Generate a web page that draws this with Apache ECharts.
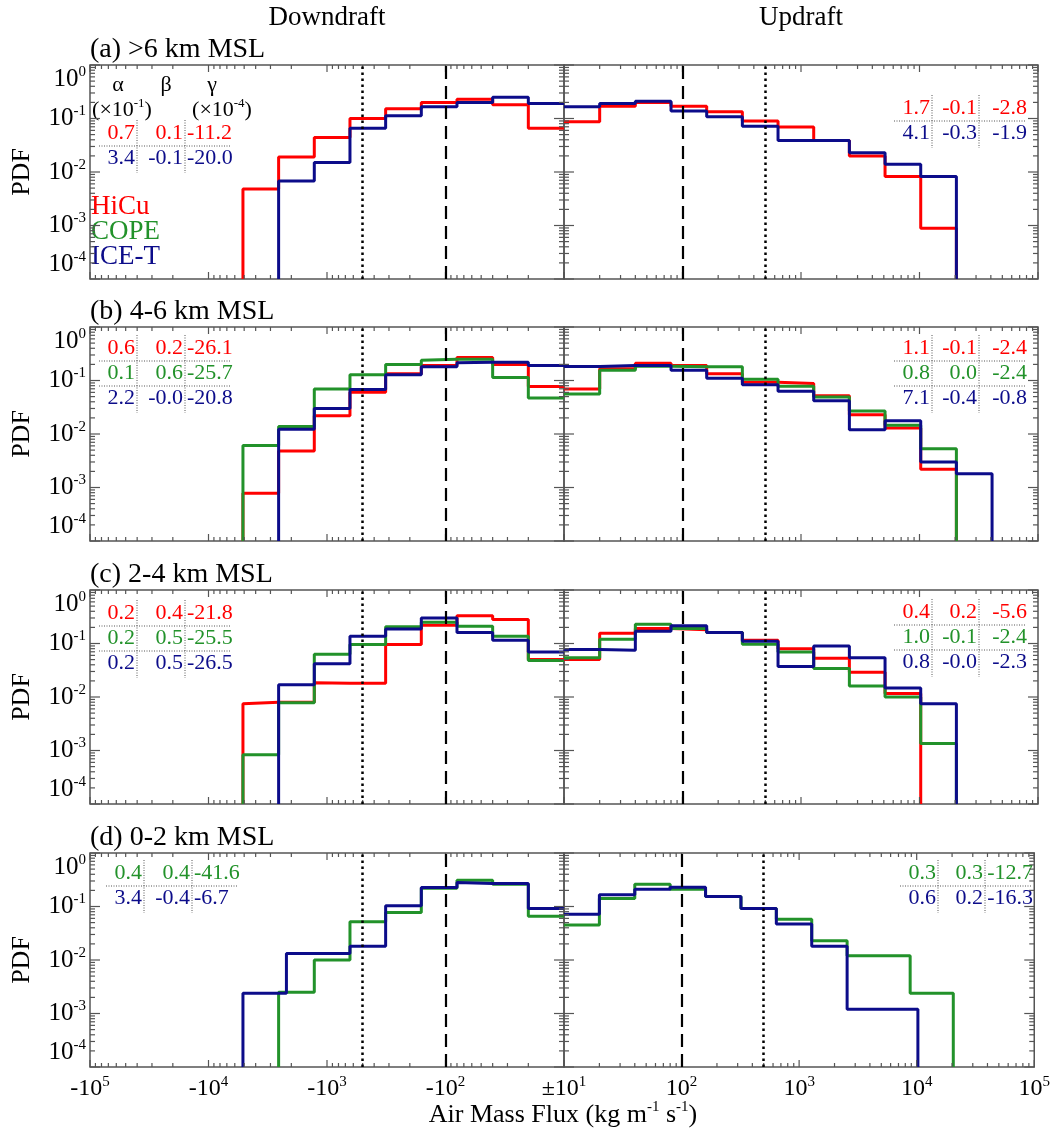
<!DOCTYPE html>
<html>
<head>
<meta charset="utf-8">
<script src="https://cdn.jsdelivr.net/npm/echarts@6/dist/echarts.min.js"></script>
<style>
  html, body { margin: 0; padding: 0; background: #fff; }
  #chart { width: 1053px; height: 1133px; }
</style>
</head>
<body>
<div id="chart"></div>
<script>
const campaigns = ['HiCu', 'COPE', 'ICE-T'];
const campaignColors = ['#ff0000', '#22922a', '#0c0c8a'];
const panelTitles = ['(a) >6 km MSL', '(b) 4-6 km MSL', '(c) 2-4 km MSL', '(d) 0-2 km MSL'];
const binEdges = [10, 20, 40, 80, 160, 320, 640, 1280, 2560, 5120, 10240, 20480, 40960];
const refDashed = 100;
const refDotted = 500;

// PDF per bin, |flux| from 10 outward; null panel = campaign not in that layer
const downHiCu = [
  [0.066, 0.18, 0.23, 0.20, 0.152, 0.10, 0.044, 0.019, 0.0048],
  [0.077, 0.20, 0.27, 0.19, 0.134, 0.060, 0.022, 0.0048, 0.00078],
  [0.050, 0.28, 0.33, 0.22, 0.096, 0.018, 0.0185, 0.008, 0.0075],
  null
];
const downCOPE = [
  null,
  [0.047, 0.114, 0.25, 0.24, 0.199, 0.128, 0.069, 0.0138, 0.0061],
  [0.048, 0.137, 0.21, 0.25, 0.206, 0.096, 0.063, 0.0078, 0.00083],
  [0.066, 0.26, 0.31, 0.22, 0.077, 0.052, 0.010, 0.0025]
];
const downICET = [
  [0.19, 0.25, 0.20, 0.166, 0.113, 0.066, 0.015, 0.0068],
  [0.19, 0.22, 0.215, 0.18, 0.128, 0.068, 0.030, 0.0123],
  [0.069, 0.115, 0.16, 0.30, 0.187, 0.137, 0.042, 0.017],
  [0.092, 0.27, 0.28, 0.226, 0.103, 0.018, 0.0132, 0.0024]
];
const upHiCu = [
  [0.087, 0.17, 0.20, 0.17, 0.134, 0.09, 0.069, 0.039, 0.020, 0.0082, 0.00089],
  [0.069, 0.166, 0.21, 0.19, 0.134, 0.093, 0.088, 0.052, 0.023, 0.013, 0.0022],
  [0.050, 0.155, 0.19, 0.18, 0.16, 0.115, 0.080, 0.053, 0.029, 0.0116],
  null
];
const upCOPE = [
  null,
  [0.056, 0.155, 0.185, 0.18, 0.18, 0.105, 0.078, 0.049, 0.027, 0.0145, 0.0053],
  [0.054, 0.12, 0.23, 0.19, 0.16, 0.097, 0.069, 0.034, 0.016, 0.010, 0.00135],
  [0.045, 0.141, 0.26, 0.21, 0.154, 0.092, 0.058, 0.023, 0.012, 0.0024]
];
const upICET = [
  [0.166, 0.19, 0.21, 0.138, 0.108, 0.072, 0.039, 0.039, 0.023, 0.014, 0.0082],
  [0.183, 0.19, 0.19, 0.155, 0.11, 0.083, 0.063, 0.042, 0.012, 0.0177, 0.0030, 0.0018],
  [0.077, 0.075, 0.17, 0.215, 0.16, 0.11, 0.037, 0.090, 0.054, 0.0147, 0.0075],
  [0.072, 0.165, 0.21, 0.23, 0.154, 0.092, 0.047, 0.018, 0.0012, 0.0012]
];
// panel (d) has two series binned differently at large |flux|
const downICETEdgesD = [10, 20, 40, 80, 160, 320, 640, 2200, 5120];
const upCOPEEdgesD = [10, 20, 40, 80, 160, 320, 640, 1280, 2560, 8800, 20480];

// fitted parameters alpha (x10^-1), beta, gamma (x10^-4)
const paramsDown = [
  [['0.7', '0.1', '-11.2'], null, ['3.4', '-0.1', '-20.0']],
  [['0.6', '0.2', '-26.1'], ['0.1', '0.6', '-25.7'], ['2.2', '-0.0', '-20.8']],
  [['0.2', '0.4', '-21.8'], ['0.2', '0.5', '-25.5'], ['0.2', '0.5', '-26.5']],
  [null, ['0.4', '0.4', '-41.6'], ['3.4', '-0.4', '-6.7']]
];
const paramsUp = [
  [['1.7', '-0.1', '-2.8'], null, ['4.1', '-0.3', '-1.9']],
  [['1.1', '-0.1', '-2.4'], ['0.8', '0.0', '-2.4'], ['7.1', '-0.4', '-0.8']],
  [['0.4', '0.2', '-5.6'], ['1.0', '-0.1', '-2.4'], ['0.8', '-0.0', '-2.3']],
  [null, ['0.3', '0.3', '-12.7'], ['0.6', '0.2', '-16.3']]
];

const FONT = '"Liberation Serif", "Times New Roman", serif';
const xMin = 10, xMax = 1e5, yMin = 1e-4, yMax = 1;
const panelTop = [65, 327, 590, 853];
const panelH = 214;
const plotLeft = 90, plotMid = 564, plotRight = 1038;

const downData = [downHiCu, downCOPE, downICET];
const upData = [upHiCu, upCOPE, upICET];

function edgesFor(p, side, k) {
  if (p === 3 && side === 0 && k === 2) return downICETEdgesD;
  if (p === 3 && side === 1 && k === 1) return upCOPEEdgesD;
  return binEdges;
}

// histogram outline, dropping to the axis floor at the outer end
function stepPoints(values, edges) {
  const pts = [];
  let last = 0;
  values.forEach((v, i) => {
    if (v == null) return;
    pts.push([edges[i], v], [edges[i + 1], v]);
    last = i;
  });
  pts.push([edges[last + 1], yMin]);
  return pts;
}

// tick positions (decades + 2..9 minors) for both axes
const tickData = [];
[10, 100, 1000, 10000].forEach(b => {
  for (let m = 1; m <= 9; m++) tickData.push([m * b, 1e-2, m === 1 ? 1 : 0]);
});
tickData.push([1e5, 1e-2, 1]);
[1e-4, 1e-3, 1e-2, 1e-1].forEach(b => {
  for (let m = 1; m <= 9; m++) tickData.push([10, m * b, m === 1 ? 3 : 2]);
});
tickData.push([10, 1, 3]);

function renderTicks(params, api) {
  const t = api.value(2);
  const style = { stroke: '#555', lineWidth: 1.2 };
  if (t <= 1) {
    const x = api.value(0);
    const lo = api.coord([x, yMin]);
    const hi = api.coord([x, yMax]);
    const len = t === 1 ? 7 : 4;
    return {
      type: 'group',
      children: [
        { type: 'line', shape: { x1: lo[0], y1: lo[1], x2: lo[0], y2: lo[1] - len }, style },
        { type: 'line', shape: { x1: hi[0], y1: hi[1], x2: hi[0], y2: hi[1] + len }, style }
      ]
    };
  }
  const y = api.value(1);
  const a = api.coord([xMin, y]);
  const b = api.coord([xMax, y]);
  const dir = Math.sign(b[0] - a[0]);
  const len = t === 3 ? 10 : 5;
  return {
    type: 'group',
    children: [
      { type: 'line', shape: { x1: a[0], y1: a[1], x2: a[0] + dir * len, y2: a[1] }, style },
      { type: 'line', shape: { x1: b[0], y1: b[1], x2: b[0] - dir * len, y2: b[1] }, style }
    ]
  };
}

const supRich = (size, sup) => ({
  b: { fontSize: size, fontFamily: FONT, color: '#000', lineHeight: size + 4 },
  s: { fontSize: sup, fontFamily: FONT, color: '#000', verticalAlign: 'top', lineHeight: sup }
});

const grids = [], xAxes = [], yAxes = [], series = [];

panelTop.forEach((top, p) => {
  [0, 1].forEach(side => {
    const gi = p * 2 + side;
    grids.push({
      left: side ? plotMid : plotLeft,
      top: top,
      width: side ? plotRight - plotMid : plotMid - plotLeft,
      height: panelH,
      show: true,
      borderColor: '#555',
      borderWidth: 1.5
    });
    xAxes.push({
      type: 'log',
      logBase: 10,
      gridIndex: gi,
      min: xMin,
      max: xMax,
      inverse: side === 0,
      axisLine: { show: false },
      axisTick: { show: false },
      splitLine: { show: false },
      axisLabel: {
        show: p === 3,
        margin: 8,
        showMinLabel: true,
        showMaxLabel: true,
        formatter: v => {
          const e = Math.round(Math.log10(v));
          if (side === 1) return v === 10 ? '' : '{b|10}{s|' + e + '}';
          return v === 10 ? '{b|\u00b110}{s|1}' : '{b|-10}{s|' + e + '}';
        },
        rich: supRich(24, 15)
      }
    });
    yAxes.push({
      type: 'log',
      logBase: 10,
      gridIndex: gi,
      min: yMin,
      max: yMax,
      axisLine: { show: false },
      axisTick: { show: false },
      splitLine: { show: false },
      axisLabel: {
        show: side === 0,
        margin: 4,
        showMinLabel: true,
        showMaxLabel: true,
        verticalAlignMinLabel: 'bottom',
        verticalAlignMaxLabel: 'top',
        formatter: v => '{b|10}{s|' + Math.round(Math.log10(v)) + '}',
        rich: supRich(25, 15)
      }
    });
    series.push({
      type: 'custom',
      xAxisIndex: gi,
      yAxisIndex: gi,
      silent: true,
      z: 3,
      renderItem: renderTicks,
      data: tickData
    });
    series.push({
      type: 'line',
      xAxisIndex: gi,
      yAxisIndex: gi,
      data: [],
      z: 1,
      markLine: {
        silent: true,
        symbol: 'none',
        label: { show: false },
        animation: false,
        data: [
          { xAxis: refDashed, lineStyle: { color: '#000', width: 2.2, type: [13, 7] } },
          { xAxis: refDotted, lineStyle: { color: '#000', width: 2.5, type: [2.5, 3.5] } }
        ]
      }
    });
    campaigns.forEach((name, k) => {
      const vals = (side ? upData : downData)[k][p];
      if (!vals) return;
      series.push({
        type: 'line',
        name: name,
        xAxisIndex: gi,
        yAxisIndex: gi,
        z: 2,
        symbol: 'none',
        lineStyle: { color: campaignColors[k], width: 3 },
        data: stepPoints(vals, edgesFor(p, side, k))
      });
    });
  });
});

// text overlays
const graphics = [];
function txt(text, x, y, size, color, align, extra) {
  graphics.push(Object.assign({
    type: 'text', x: x, y: y, silent: true,
    style: {
      text: text, fontSize: size, fontFamily: FONT, fill: color || '#000',
      align: align || 'left', verticalAlign: 'middle'
    }
  }, extra || {}));
}
function dotted(x1, y1, x2, y2) {
  graphics.push({
    type: 'line', silent: true,
    shape: { x1: x1, y1: y1, x2: x2, y2: y2 },
    style: { stroke: '#555', lineWidth: 1, lineDash: [1, 1.5] }
  });
}

txt('Downdraft', 327, 18, 27, '#000', 'center');
txt('Updraft', 801, 18, 27, '#000', 'center');

panelTop.forEach((top, p) => {
  txt(panelTitles[p], 90, top - 15, 28);
  txt('PDF', 22, top + panelH / 2, 26, '#000', 'center', { rotation: Math.PI / 2 });

  [0, 1].forEach(side => {
    const rows = (side ? paramsUp : paramsDown)[p];
    const firstY = top + (side ? [43, 21, 22, 20][p] : [68, 21, 23, 20][p]);
    const sep = side ? (p === 3 ? [938, 985] : [932, 979]) : (p === 3 ? [144, 192] : [137, 185]);
    const shown = [];
    rows.forEach((r, k) => { if (r) shown.push([r, k]); });
    shown.forEach(([r, k], i) => {
      const y = firstY + i * 25;
      const c = campaignColors[k];
      txt(r[0], sep[0] - 2, y, 22, c, 'right');
      txt(r[1], sep[1] - 2, y, 22, c, 'right');
      if (side) txt(r[2], sep[1] + 48, y, 22, c, 'right');
      else txt(r[2], sep[1] + 2, y, 22, c, 'left');
      if (i > 0) dotted(sep[0] - 38, y - 12, sep[1] + 46, y - 12);
    });
    const lastY = firstY + (shown.length - 1) * 25;
    dotted(sep[0], firstY - 13, sep[0], lastY + 15);
    dotted(sep[1], firstY - 13, sep[1], lastY + 15);
  });
});

// parameter header and legend in panel (a)
txt('\u03b1', 118, 85, 22, '#000', 'center');
txt('\u03b2', 166, 85, 22, '#000', 'center');
txt('\u03b3', 212, 85, 22, '#000', 'center');
graphics.push({
  type: 'text', x: 122, y: 110, silent: true,
  style: { text: '{b|(\u00d710}{s|-1}{b|)}', rich: supRich(22, 13), align: 'center', verticalAlign: 'middle' }
});
graphics.push({
  type: 'text', x: 222, y: 110, silent: true,
  style: { text: '{b|(\u00d710}{s|-4}{b|)}', rich: supRich(22, 13), align: 'center', verticalAlign: 'middle' }
});
campaigns.forEach((name, k) => txt(name, 91, 207 + k * 25, 27, campaignColors[k]));

graphics.push({
  type: 'text', x: 563, y: 1115, silent: true,
  style: { text: '{b|Air Mass Flux (kg m}{s|-1}{b| s}{s|-1}{b|)}', rich: supRich(26, 15), align: 'center', verticalAlign: 'middle' }
});

const chart = echarts.init(document.getElementById('chart'), null, { renderer: 'canvas' });
chart.setOption({
  animation: false,
  backgroundColor: '#fff',
  grid: grids,
  xAxis: xAxes,
  yAxis: yAxes,
  series: series,
  graphic: { elements: graphics }
});
</script>
</body>
</html>
